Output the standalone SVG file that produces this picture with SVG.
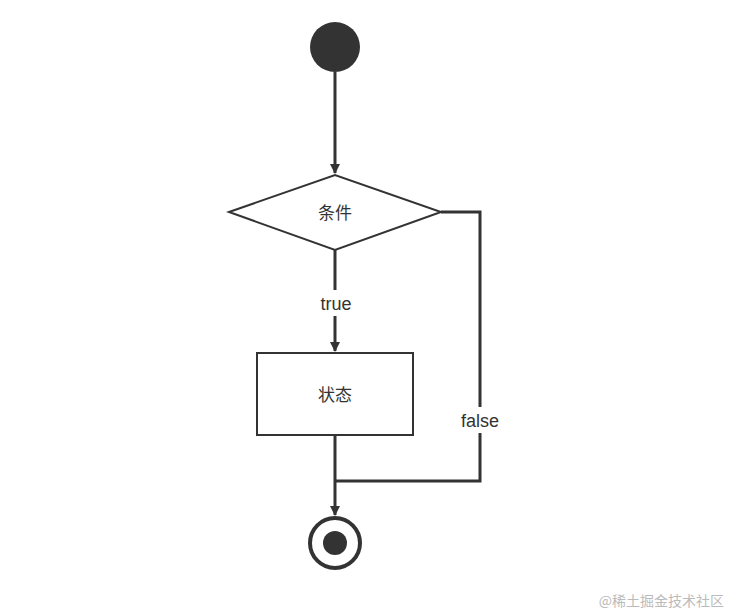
<svg xmlns="http://www.w3.org/2000/svg" width="730" height="613" viewBox="0 0 730 613">
<style>
.l{fill:none;stroke:#333;stroke-width:3}
.t{font-family:"Liberation Sans","Noto Sans CJK SC",sans-serif;font-size:18px;fill:#333;text-anchor:middle}
.c{font-family:"Noto Sans CJK SC",sans-serif;font-size:17px;fill:#333;text-anchor:middle}
</style>
<defs><marker id="a" markerWidth="10" markerHeight="10" refX="9" refY="5" orient="auto" markerUnits="userSpaceOnUse"><path d="M0,0L10,5L0,10Z" fill="#333"/></marker></defs>
<rect width="730" height="613" fill="#fff"/>
<g id="connectors">
<path class="l" d="M335,72V173" marker-end="url(#a)"/>
<path class="l" d="M335,250V351" marker-end="url(#a)"/>
<path class="l" d="M335,435V515" marker-end="url(#a)"/>
<path class="l" d="M441,212H480V481H335"/>
<rect x="314" y="290" width="42" height="26" fill="#fff"/>
<text class="t" x="336" y="310">true</text>
<rect x="456" y="407" width="48" height="26" fill="#fff"/>
<text class="t" x="480" y="427">false</text>
</g>
<g id="start"><circle cx="335" cy="47" r="25" fill="#333"/></g>
<g id="cond"><path d="M229,212L335,175L441,212L335,250Z" fill="#fff" stroke="#333" stroke-width="2"/><text class="c" x="335" y="219">条件</text></g>
<g id="state"><rect x="257" y="353" width="156" height="82" fill="#fff" stroke="#333" stroke-width="2"/><text class="c" x="335" y="401">状态</text></g>
<g id="end"><circle cx="335" cy="543" r="25" fill="#fff" stroke="#333" stroke-width="4"/><circle cx="335" cy="543" r="12" fill="#333"/></g>
<text x="724" y="606" font-family="Noto Sans CJK SC,sans-serif" font-size="14" fill="#bbb" text-anchor="end">@稀土掘金技术社区</text>
</svg>
